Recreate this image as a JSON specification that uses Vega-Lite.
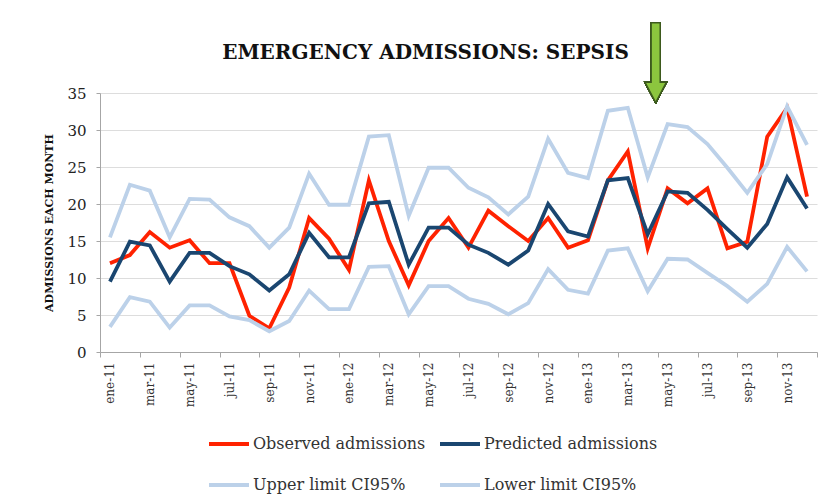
{
  "$schema": "https://vega.github.io/schema/vega-lite/v6.json",
  "autosize": {"type": "none"},
  "padding": {"left": 100, "top": 93, "right": 9, "bottom": 151},
  "width": 717,
  "height": 259,
  "background": "white",
  "title": {
    "text": "EMERGENCY ADMISSIONS: SEPSIS",
    "font": "DejaVu Serif",
    "fontSize": 20,
    "fontWeight": "bold",
    "color": "#111111",
    "anchor": "middle",
    "dx": -33,
    "offset": -43
  },
  "config": {
    "view": {"stroke": null},
    "axis": {"labelFont": "DejaVu Serif", "titleFont": "DejaVu Serif"},
    "axisY": {
      "values": [0, 5, 10, 15, 20, 25, 30, 35],
      "title": "ADMISSIONS EACH MONTH",
      "titleFontSize": 11,
      "titleFontWeight": "bold",
      "titleColor": "#111111",
      "titlePadding": 12,
      "labelFontSize": 15,
      "labelColor": "#222222",
      "labelPadding": 10,
      "tickSize": 4,
      "tickColor": "#a6a6a6",
      "domainColor": "#a6a6a6",
      "gridColor": "#dddddd",
      "grid": true
    }
  },
  "data": {
    "values": [
      {"i": 0, "Observed admissions": 12.0, "Predicted admissions": 9.5, "Upper limit CI95%": 15.5, "Lower limit CI95%": 3.4},
      {"i": 1, "Observed admissions": 13.1, "Predicted admissions": 14.9, "Upper limit CI95%": 22.6, "Lower limit CI95%": 7.4},
      {"i": 2, "Observed admissions": 16.2, "Predicted admissions": 14.4, "Upper limit CI95%": 21.8, "Lower limit CI95%": 6.8},
      {"i": 3, "Observed admissions": 14.1, "Predicted admissions": 9.5, "Upper limit CI95%": 15.5, "Lower limit CI95%": 3.3},
      {"i": 4, "Observed admissions": 15.1, "Predicted admissions": 13.4, "Upper limit CI95%": 20.7, "Lower limit CI95%": 6.3},
      {"i": 5, "Observed admissions": 12.0, "Predicted admissions": 13.4, "Upper limit CI95%": 20.6, "Lower limit CI95%": 6.3},
      {"i": 6, "Observed admissions": 12.0, "Predicted admissions": 11.6, "Upper limit CI95%": 18.2, "Lower limit CI95%": 4.8},
      {"i": 7, "Observed admissions": 4.9, "Predicted admissions": 10.5, "Upper limit CI95%": 17.0, "Lower limit CI95%": 4.3},
      {"i": 8, "Observed admissions": 3.2, "Predicted admissions": 8.3, "Upper limit CI95%": 14.1, "Lower limit CI95%": 2.8},
      {"i": 9, "Observed admissions": 8.7, "Predicted admissions": 10.5, "Upper limit CI95%": 16.8, "Lower limit CI95%": 4.2},
      {"i": 10, "Observed admissions": 18.1, "Predicted admissions": 16.1, "Upper limit CI95%": 24.1, "Lower limit CI95%": 8.3},
      {"i": 11, "Observed admissions": 15.3, "Predicted admissions": 12.8, "Upper limit CI95%": 19.9, "Lower limit CI95%": 5.8},
      {"i": 12, "Observed admissions": 11.1, "Predicted admissions": 12.8, "Upper limit CI95%": 19.9, "Lower limit CI95%": 5.8},
      {"i": 13, "Observed admissions": 23.2, "Predicted admissions": 20.1, "Upper limit CI95%": 29.1, "Lower limit CI95%": 11.5},
      {"i": 14, "Observed admissions": 15.0, "Predicted admissions": 20.3, "Upper limit CI95%": 29.3, "Lower limit CI95%": 11.6},
      {"i": 15, "Observed admissions": 9.0, "Predicted admissions": 11.8, "Upper limit CI95%": 18.4, "Lower limit CI95%": 5.1},
      {"i": 16, "Observed admissions": 15.0, "Predicted admissions": 16.8, "Upper limit CI95%": 24.9, "Lower limit CI95%": 8.9},
      {"i": 17, "Observed admissions": 18.1, "Predicted admissions": 16.8, "Upper limit CI95%": 24.9, "Lower limit CI95%": 8.9},
      {"i": 18, "Observed admissions": 14.1, "Predicted admissions": 14.5, "Upper limit CI95%": 22.2, "Lower limit CI95%": 7.2},
      {"i": 19, "Observed admissions": 19.1, "Predicted admissions": 13.4, "Upper limit CI95%": 20.9, "Lower limit CI95%": 6.5},
      {"i": 20, "Observed admissions": 17.0, "Predicted admissions": 11.8, "Upper limit CI95%": 18.6, "Lower limit CI95%": 5.1},
      {"i": 21, "Observed admissions": 15.0, "Predicted admissions": 13.7, "Upper limit CI95%": 21.0, "Lower limit CI95%": 6.6},
      {"i": 22, "Observed admissions": 18.1, "Predicted admissions": 20.0, "Upper limit CI95%": 28.8, "Lower limit CI95%": 11.2},
      {"i": 23, "Observed admissions": 14.1, "Predicted admissions": 16.3, "Upper limit CI95%": 24.2, "Lower limit CI95%": 8.4},
      {"i": 24, "Observed admissions": 15.1, "Predicted admissions": 15.6, "Upper limit CI95%": 23.5, "Lower limit CI95%": 7.9},
      {"i": 25, "Observed admissions": 23.2, "Predicted admissions": 23.2, "Upper limit CI95%": 32.6, "Lower limit CI95%": 13.7},
      {"i": 26, "Observed admissions": 27.1, "Predicted admissions": 23.5, "Upper limit CI95%": 33.0, "Lower limit CI95%": 14.0},
      {"i": 27, "Observed admissions": 14.0, "Predicted admissions": 15.9, "Upper limit CI95%": 23.6, "Lower limit CI95%": 8.2},
      {"i": 28, "Observed admissions": 22.1, "Predicted admissions": 21.7, "Upper limit CI95%": 30.8, "Lower limit CI95%": 12.6},
      {"i": 29, "Observed admissions": 20.1, "Predicted admissions": 21.5, "Upper limit CI95%": 30.4, "Lower limit CI95%": 12.5},
      {"i": 30, "Observed admissions": 22.1, "Predicted admissions": 19.2, "Upper limit CI95%": 28.1, "Lower limit CI95%": 10.7},
      {"i": 31, "Observed admissions": 14.0, "Predicted admissions": 16.6, "Upper limit CI95%": 24.9, "Lower limit CI95%": 8.9},
      {"i": 32, "Observed admissions": 14.9, "Predicted admissions": 14.1, "Upper limit CI95%": 21.5, "Lower limit CI95%": 6.8},
      {"i": 33, "Observed admissions": 29.1, "Predicted admissions": 17.3, "Upper limit CI95%": 25.4, "Lower limit CI95%": 9.2},
      {"i": 34, "Observed admissions": 33.0, "Predicted admissions": 23.6, "Upper limit CI95%": 33.2, "Lower limit CI95%": 14.2},
      {"i": 35, "Observed admissions": 21.0, "Predicted admissions": 19.4, "Upper limit CI95%": 28.0, "Lower limit CI95%": 10.9}
    ]
  },
  "resolve": {"axis": {"x": "independent"}},
  "layer": [
    {
      "transform": [
        {"fold": ["Observed admissions", "Predicted admissions", "Upper limit CI95%", "Lower limit CI95%"], "as": ["series", "value"]}
      ],
      "mark": {"type": "line", "strokeWidth": 3.8, "strokeJoin": "miter"},
      "encoding": {
        "x": {
          "field": "i",
          "type": "quantitative",
          "scale": {"domain": [-0.5, 35.5], "nice": false, "zero": false},
          "axis": {
            "orient": "bottom",
            "values": [0, 2, 4, 6, 8, 10, 12, 14, 16, 18, 20, 22, 24, 26, 28, 30, 32, 34],
            "labelExpr": "['ene','feb','mar','abr','may','jun','jul','ago','sep','oct','nov','dic'][datum.value % 12] + '-' + (11 + floor(datum.value / 12))",
            "labelAngle": -90,
            "labelAlign": "right",
            "labelBaseline": "middle",
            "labelFontSize": 12,
            "labelColor": "#333333",
            "labelPadding": 10,
            "ticks": false,
            "domain": false,
            "grid": false,
            "title": null
          }
        },
        "y": {
          "field": "value",
          "type": "quantitative",
          "scale": {"domain": [0, 35], "nice": false},
          "axis": {
            "values": [0, 5, 10, 15, 20, 25, 30, 35],
            "title": "ADMISSIONS EACH MONTH"
          }
        },
        "color": {
          "field": "series",
          "type": "nominal",
          "sort": ["Observed admissions", "Predicted admissions", "Upper limit CI95%", "Lower limit CI95%"],
          "scale": {
            "domain": ["Observed admissions", "Predicted admissions", "Upper limit CI95%", "Lower limit CI95%"],
            "range": ["#ff2200", "#1a4670", "#bcd1e9", "#bcd1e9"]
          },
          "legend": {
            "title": null,
            "orient": "none",
            "legendX": 107,
            "legendY": 329,
            "columns": 2,
            "direction": "horizontal",
            "symbolType": "stroke",
            "symbolSize": 1600,
            "symbolStrokeWidth": 4,
            "labelFont": "DejaVu Serif",
            "labelFontSize": 16,
            "labelColor": "#333333",
            "labelOffset": 2,
            "columnPadding": 6,
            "rowPadding": 11,
            "labelLimit": 300
          }
        }
      }
    },
    {
      "mark": {
        "type": "point",
        "shape": "M -0.114 -1 L 0.114 -1 L 0.114 0.49 L 0.266 0.49 L 0 1 L -0.266 0.49 L -0.114 0.49 Z",
        "filled": true,
        "fill": "#8cc63e",
        "stroke": "#3d5a1e",
        "strokeWidth": 1.5,
        "opacity": 1,
        "size": 6400
      },
      "encoding": {
        "x": {
          "datum": 27.4,
          "type": "quantitative",
          "axis": {
            "orient": "bottom",
            "values": [-0.5, 1.5, 3.5, 5.5, 7.5, 9.5, 11.5, 13.5, 15.5, 17.5, 19.5, 21.5, 23.5, 25.5, 27.5, 29.5, 31.5, 33.5, 35.5],
            "labels": false,
            "ticks": true,
            "tickSize": 5,
            "tickColor": "#a6a6a6",
            "domain": true,
            "domainColor": "#a6a6a6",
            "grid": false,
            "title": null
          }
        },
        "y": {
          "datum": 39.1,
          "type": "quantitative",
          "scale": {"domain": [0, 35], "nice": false},
          "axis": {
            "values": [0, 5, 10, 15, 20, 25, 30, 35],
            "title": "ADMISSIONS EACH MONTH"
          }
        }
      }
    }
  ]
}
